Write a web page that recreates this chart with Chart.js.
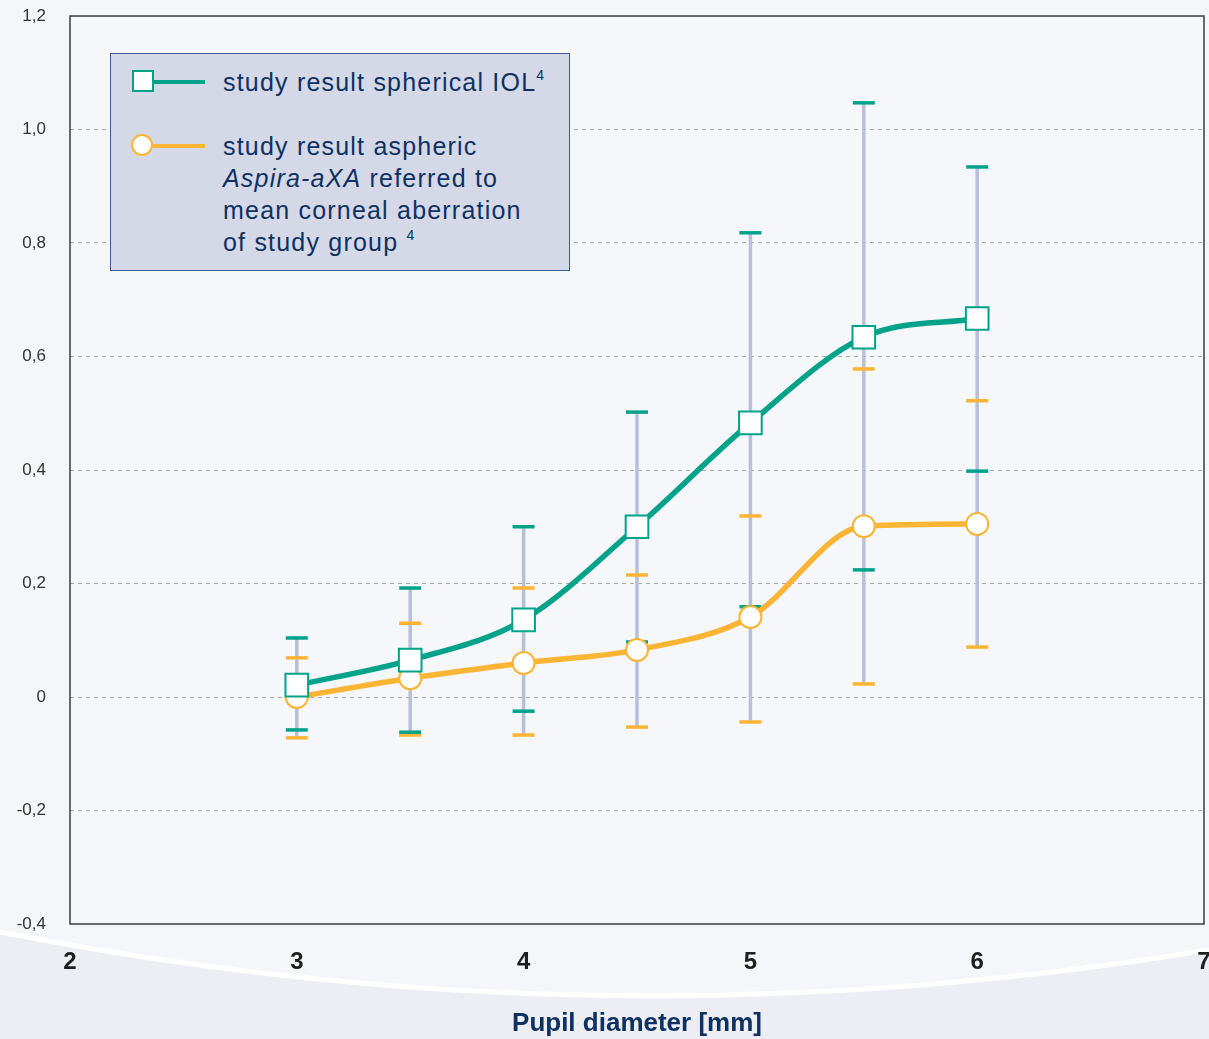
<!DOCTYPE html>
<html>
<head>
<meta charset="utf-8">
<script src="https://cdn.jsdelivr.net/npm/chart.js@4"></script>
<style>
    body { margin: 0; background: #f4f6fa; font-family: "Liberation Sans", Arial, sans-serif; }
    #wrap { position: relative; width: 1209px; height: 1039px; }
    #legend {
        position: absolute; left: 110px; top: 53px; width: 458px; height: 216px;
        background: #d5d9e7; border: 1.5px solid #3c5d8f; color: #0e3162;
        font-size: 25px; line-height: 32px; letter-spacing: 1.2px;
    }
    .mk-line { position: absolute; height: 4px; left: 42px; width: 52px; }
    .sq { position: absolute; width: 18px; height: 18px; background: #fff; border: 2px solid #00a38a; }
    .ci { position: absolute; width: 18px; height: 18px; background: #fff; border: 2px solid #fbb434; border-radius: 50%; }
    .txt { position: absolute; left: 112px; white-space: nowrap; }
    sup { font-size: 14px; vertical-align: 0; position: relative; top: -11px; letter-spacing: 0; }
</style>
</head>
<body>
<div id="wrap">
    <canvas id="chart" width="1209" height="1039"></canvas>
    <div id="legend">
        <div class="mk-line" style="top: 26px; background: #00a38a;"></div>
        <div class="sq" style="left: 21px; top: 16px;"></div>
        <div class="txt" style="top: 12px;">study result spherical IOL<sup>4</sup></div>

        <div class="mk-line" style="top: 90px; background: #fbb434;"></div>
        <div class="ci" style="left: 20px; top: 80px;"></div>
        <div class="txt" style="top: 76px;">study result aspheric<br><i>Aspira-aXA</i> referred to<br>mean corneal aberration<br>of study group <sup>4</sup></div>
    </div>
</div>
<script>
// pupil diameter (mm)
const pupil = [3, 3.5, 4, 4.5, 5, 5.5, 6];

// spherical IOL: mean and error bar ends
const spherical = [0.021, 0.065, 0.136, 0.300, 0.483, 0.634, 0.667];
const sphericalHigh = [0.104, 0.192, 0.300, 0.502, 0.818, 1.047, 0.934];
const sphericalLow = [-0.058, -0.062, -0.025, 0.097, 0.159, 0.224, 0.398];

// aspheric Aspira-aXA: mean and error bar ends
const aspheric = [0.0, 0.033, 0.060, 0.083, 0.141, 0.301, 0.305];
const asphericHigh = [0.069, 0.130, 0.192, 0.215, 0.319, 0.578, 0.522];
const asphericLow = [-0.072, -0.067, -0.067, -0.053, -0.044, 0.023, 0.088];

const TEAL = '#00a38a';
const ORANGE = '#fbb434';

const backdrop = {
    id: 'backdrop',
    beforeDraw(chart) {
        const ctx = chart.ctx;
        const w = chart.width, h = chart.height;
        ctx.save();
        ctx.fillStyle = '#f4f6fa';
        ctx.fillRect(0, 0, w, h);
        // darker band under the swoosh
        ctx.beginPath();
        ctx.moveTo(0, 932);
        ctx.quadraticCurveTo(600, 1050, w, 950);
        ctx.lineTo(w, h);
        ctx.lineTo(0, h);
        ctx.closePath();
        ctx.fillStyle = '#eceef4';
        ctx.fill();
        ctx.beginPath();
        ctx.moveTo(0, 932);
        ctx.quadraticCurveTo(600, 1050, w, 950);
        ctx.strokeStyle = '#ffffff';
        ctx.lineWidth = 5;
        ctx.stroke();
        const a = chart.chartArea;
        ctx.fillStyle = '#f5f7fb';
        ctx.fillRect(a.left, a.top, a.right - a.left, a.bottom - a.top);
        ctx.restore();
    },
    afterDraw(chart) {
        const ctx = chart.ctx;
        const a = chart.chartArea;
        ctx.save();
        ctx.strokeStyle = '#3d3d3d';
        ctx.lineWidth = 1.5;
        ctx.strokeRect(a.left, a.top, a.right - a.left, a.bottom - a.top);
        ctx.restore();
    }
};

const errorBars = {
    id: 'errorBars',
    beforeDatasetsDraw(chart) {
        const ctx = chart.ctx;
        const xs = chart.scales.x, ys = chart.scales.y;
        ctx.save();
        pupil.forEach((p, i) => {
            const x = xs.getPixelForValue(p);
            const top = Math.max(sphericalHigh[i], asphericHigh[i]);
            const bot = Math.min(sphericalLow[i], asphericLow[i]);
            ctx.strokeStyle = '#b9bfd6';
            ctx.lineWidth = 3.5;
            ctx.beginPath();
            ctx.moveTo(x, ys.getPixelForValue(top));
            ctx.lineTo(x, ys.getPixelForValue(bot));
            ctx.stroke();
            const caps = [
                [asphericHigh[i], ORANGE], [asphericLow[i], ORANGE],
                [sphericalHigh[i], TEAL], [sphericalLow[i], TEAL]
            ];
            caps.forEach(([v, c]) => {
                const y = ys.getPixelForValue(v);
                ctx.strokeStyle = c;
                ctx.lineWidth = 3.5;
                ctx.beginPath();
                ctx.moveTo(x - 11, y);
                ctx.lineTo(x + 11, y);
                ctx.stroke();
            });
        });
        ctx.restore();
    }
};

new Chart(document.getElementById('chart'), {
    type: 'line',
    data: {
        datasets: [
            {
                label: 'study result aspheric Aspira-aXA',
                data: pupil.map((p, i) => ({ x: p, y: aspheric[i] })),
                borderColor: ORANGE,
                borderWidth: 5.5,
                cubicInterpolationMode: 'monotone',
                pointStyle: 'circle',
                pointRadius: 11,
                pointBackgroundColor: '#ffffff',
                pointBorderColor: ORANGE,
                pointBorderWidth: 2,
                order: 2
            },
            {
                label: 'study result spherical IOL',
                data: pupil.map((p, i) => ({ x: p, y: spherical[i] })),
                borderColor: TEAL,
                borderWidth: 5.5,
                cubicInterpolationMode: 'monotone',
                pointStyle: 'rect',
                pointRadius: 16,
                pointBackgroundColor: '#ffffff',
                pointBorderColor: TEAL,
                pointBorderWidth: 2,
                order: 1
            }
        ]
    },
    options: {
        responsive: false,
        animation: false,
        layout: { autoPadding: false, padding: { top: 16, right: 5, left: 0, bottom: 0 } },
        plugins: { legend: { display: false }, tooltip: { enabled: false } },
        scales: {
            x: {
                type: 'linear',
                min: 2, max: 7,
                grid: { display: false, drawTicks: false },
                border: { display: false },
                ticks: {
                    stepSize: 1,
                    padding: 24,
                    color: '#1e1e1e',
                    font: { family: '"Liberation Sans", sans-serif', size: 24, weight: 'bold' }
                },
                title: {
                    display: true,
                    text: 'Pupil diameter [mm]',
                    color: '#0e3162',
                    padding: { top: 0, bottom: 0 },
                    font: { family: '"Liberation Sans", sans-serif', size: 26, weight: 'bold' }
                },
                afterFit(scale) {
                    scale.height = 115;
                    scale.paddingLeft = 0;
                    scale.paddingRight = 0;
                }
            },
            y: {
                min: -0.4, max: 1.2,
                grid: {
                    drawTicks: false,
                    color: (c) => (c.tick && (c.tick.value <= -0.4 || c.tick.value >= 1.2)) ? 'rgba(0,0,0,0)' : '#a9a9a9',
                    lineWidth: 1
                },
                border: { display: false, dash: [4, 4] },
                ticks: {
                    stepSize: 0.2,
                    padding: 24,
                    color: '#333333',
                    font: { family: '"Liberation Sans", sans-serif', size: 17 },
                    callback: (v) => Math.abs(v) < 1e-9 ? '0' : v.toFixed(1).replace('.', ',')
                },
                afterFit(scale) {
                    scale.width = 70;
                    scale.paddingTop = 0;
                    scale.paddingBottom = 0;
                }
            }
        }
    },
    plugins: [backdrop, errorBars]
});
</script>
</body>
</html>
